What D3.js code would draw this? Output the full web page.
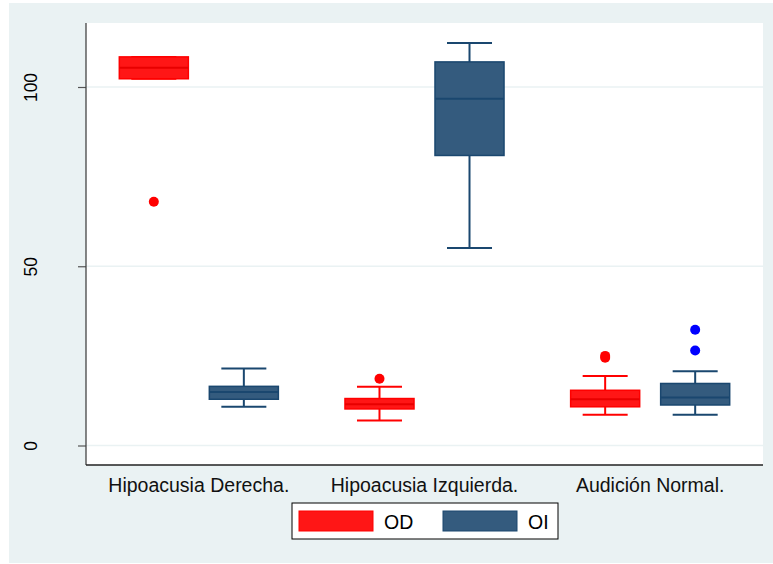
<!DOCTYPE html>
<html>
<head>
<meta charset="utf-8">
<script src="https://cdn.jsdelivr.net/npm/d3@7"></script>
<style>
  html, body { margin: 0; padding: 0; background: #fff; }
  text { font-family: Arial, "Liberation Sans", sans-serif; fill: #000; }
</style>
</head>
<body>
<div id="chart"></div>
<script>
// Groups on the x axis and the two series (right / left ear)
const categories = ['Hipoacusia Derecha.', 'Hipoacusia Izquierda.', 'Audición Normal.'];
const series = ['OD', 'OI'];
const yTicks = [0, 50, 100];

// OD box statistics, one value per category
const odLow = [102.3, 7.0, 8.6];
const odQ1 = [102.3, 10.2, 10.8];
const odMedian = [105.4, 11.5, 12.9];
const odQ3 = [108.4, 13.1, 15.4];
const odHigh = [108.4, 16.4, 19.4];
const odOutliers = [[68.0], [18.6], [24.5, 25.0]];

// OI box statistics, one value per category
const oiLow = [10.8, 55.1, 8.6];
const oiQ1 = [12.9, 80.9, 11.3];
const oiMedian = [14.9, 96.7, 13.4];
const oiQ3 = [16.5, 107.0, 17.3];
const oiHigh = [21.5, 112.3, 20.7];
const oiOutliers = [[], [], [26.5, 32.3]];

const W = 773, H = 564;
const plot = { left: 86, right: 763, top: 23, bottom: 465 };

const styles = {
  OD: { fill: '#ff1616', stroke: '#ff0000', median: '#e80000', whisker: '#ff0000', dot: '#ff0000' },
  OI: { fill: '#345b7e', stroke: '#1a476f', median: '#1a476f', whisker: '#1a476f', dot: '#0000ff' }
};

// Build one record per box from the arrays above
const boxes = [];
categories.forEach((cat, i) => {
  boxes.push({ cat, s: 'OD', low: odLow[i], q1: odQ1[i], med: odMedian[i], q3: odQ3[i], high: odHigh[i], out: odOutliers[i] });
  boxes.push({ cat, s: 'OI', low: oiLow[i], q1: oiQ1[i], med: oiMedian[i], q3: oiQ3[i], high: oiHigh[i], out: oiOutliers[i] });
});

const svg = d3.select('#chart').append('svg')
  .attr('width', W).attr('height', H);

// Outer graph region
svg.append('rect')
  .attr('x', 9).attr('y', 3).attr('width', W - 9).attr('height', 560)
  .attr('fill', '#eaf2f3');

// Plot region
svg.append('rect')
  .attr('x', plot.left).attr('y', plot.top)
  .attr('width', plot.right - plot.left).attr('height', plot.bottom - plot.top)
  .attr('fill', '#fff');

const y = d3.scaleLinear().domain([0, 100]).range([445.5, 87]);

const x0 = d3.scaleBand().domain(categories).range([plot.left, plot.right]);
const x1 = d3.scaleBand().domain(series).range([0, x0.bandwidth()])
  .paddingInner(0.233).paddingOuter(0.37);

// Gridlines
svg.append('g').selectAll('line').data(yTicks).enter().append('line')
  .attr('x1', plot.left).attr('x2', plot.right)
  .attr('y1', d => y(d)).attr('y2', d => y(d))
  .attr('stroke', '#eaf2f3').attr('stroke-width', 1.5);

// Y axis
const yAxis = svg.append('g')
  .attr('transform', `translate(${plot.left},0)`)
  .call(d3.axisLeft(y).tickValues(yTicks).tickSize(8).tickPadding(0).tickFormat(d3.format('d')));
yAxis.select('.domain').remove();
yAxis.selectAll('.tick line').attr('stroke', '#555').attr('stroke-width', 1.2);
yAxis.selectAll('.tick text')
  .attr('transform', 'translate(-49,0) rotate(-90)')
  .attr('x', 0).attr('y', 0).attr('dy', 0)
  .attr('text-anchor', 'middle')
  .style('font-size', '17.5px');

svg.append('line')
  .attr('x1', plot.left).attr('x2', plot.left)
  .attr('y1', plot.top).attr('y2', plot.bottom)
  .attr('stroke', '#444').attr('stroke-width', 1.3);

// X axis line and group labels
svg.append('line')
  .attr('x1', plot.left).attr('x2', plot.right)
  .attr('y1', plot.bottom).attr('y2', plot.bottom)
  .attr('stroke', '#222').attr('stroke-width', 1.3);

svg.append('g').selectAll('text').data(categories).enter().append('text')
  .attr('x', d => x0(d) + x0.bandwidth() / 2)
  .attr('y', 492)
  .attr('text-anchor', 'middle')
  .style('font-size', '19.5px')
  .style('fill', '#111')
  .text(d => d);

// Boxes
const bw = x1.bandwidth();
const capW = 45;
const g = svg.append('g').selectAll('g').data(boxes).enter().append('g')
  .attr('transform', d => `translate(${x0(d.cat) + x1(d.s)},0)`);

g.append('line')
  .attr('x1', bw / 2).attr('x2', bw / 2)
  .attr('y1', d => y(d.high)).attr('y2', d => y(d.low))
  .attr('stroke', d => styles[d.s].whisker).attr('stroke-width', 2);

g.selectAll('.cap').data(d => [d.low, d.high].map(v => ({ v, s: d.s }))).enter().append('line')
  .attr('x1', bw / 2 - capW / 2).attr('x2', bw / 2 + capW / 2)
  .attr('y1', d => y(d.v)).attr('y2', d => y(d.v))
  .attr('stroke', d => styles[d.s].whisker).attr('stroke-width', 2);

g.append('rect')
  .attr('x', 0).attr('width', bw)
  .attr('y', d => y(d.q3)).attr('height', d => y(d.q1) - y(d.q3))
  .attr('fill', d => styles[d.s].fill)
  .attr('stroke', d => styles[d.s].stroke).attr('stroke-width', 1.5);

g.append('line')
  .attr('x1', 0).attr('x2', bw)
  .attr('y1', d => y(d.med)).attr('y2', d => y(d.med))
  .attr('stroke', d => styles[d.s].median).attr('stroke-width', 2);

g.selectAll('circle').data(d => d.out.map(v => ({ v, s: d.s }))).enter().append('circle')
  .attr('cx', bw / 2).attr('cy', d => y(d.v)).attr('r', 5)
  .attr('fill', d => styles[d.s].dot);

// Legend
const legend = svg.append('g');
legend.append('rect')
  .attr('x', 292).attr('y', 503).attr('width', 266).attr('height', 36)
  .attr('fill', '#fff').attr('stroke', '#000').attr('stroke-width', 1);

const items = legend.selectAll('g').data(series).enter().append('g')
  .attr('transform', (d, i) => `translate(${299 + i * 144},0)`);
items.append('rect')
  .attr('x', 0).attr('y', 511).attr('width', 74).attr('height', 20)
  .attr('fill', d => styles[d].fill)
  .attr('stroke', d => styles[d].stroke).attr('stroke-width', 1);
items.append('text')
  .attr('x', 85).attr('y', 529)
  .style('font-size', '19.5px')
  .text(d => d);
</script>
</body>
</html>
